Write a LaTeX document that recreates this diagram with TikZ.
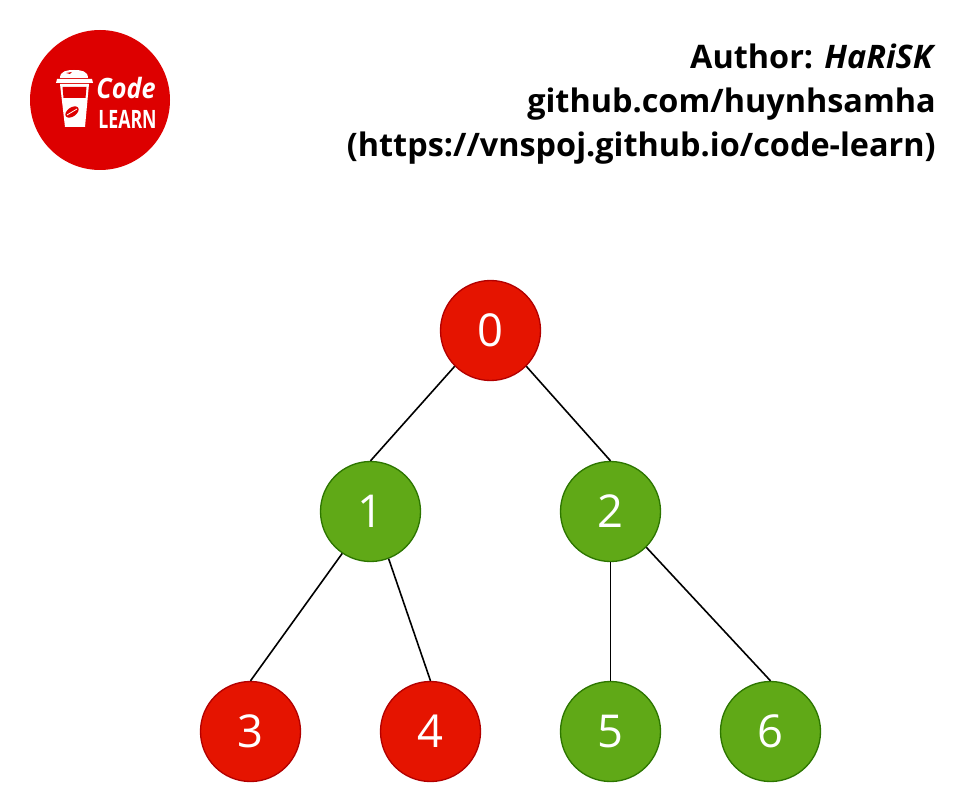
\documentclass[tikz,border=0pt]{standalone}
\usepackage{xcolor}
\usepackage{fontspec}
\setmainfont{Open Sans}
\usetikzlibrary{positioning}
\definecolor{logored}{HTML}{DD0000}
\definecolor{nodered}{HTML}{E51400}
\definecolor{nodereddraw}{HTML}{B20000}
\definecolor{nodegreen}{HTML}{60A917}
\definecolor{nodegreendraw}{HTML}{2D7600}
\tikzset{
  nut/.style={circle, line width=1pt, minimum size=75pt, inner sep=0pt, text=white,
    font=\fontsize{34}{34}\selectfont},
  nutdo/.style={nut, draw=nodereddraw, fill=nodered},
  nutxanh/.style={nut, draw=nodegreendraw, fill=nodegreen},
  canh/.style={line width=1.2pt, black},
  tieude/.style={align=right, inner sep=0pt, anchor=east,
    font=\fontsize{24.3}{33}\selectfont\bfseries}
}

\begin{document}
\begin{tikzpicture}[x=0.75pt, y=-0.75pt, on grid]
  \useasboundingbox (0,0) rectangle (962,802);
  % logo
  \fill[logored] (100,100) circle (70);
  \fill[white] (60,78) .. controls (60,71) and (67,70) .. (74,70)
    .. controls (81,70) and (88,71) .. (88,78) -- cycle;
  \fill[white] (57,79) -- (92,79) -- (93,83) -- (56,83) -- cycle;
  \fill[logored] (66,73) -- (72,72) -- (70,74) -- cycle;
  \fill[white] (60,84) -- (89,84) -- (85,127) -- (65,127) -- cycle;
  \fill[logored] (62.5,87) -- (86.5,87) -- (85.5,98) -- (63.5,98) -- cycle;
  \fill[logored, rotate around={35:(72,112)}] (72,112) ellipse (7.5 and 4.5);
  \draw[white, line width=0.6pt] (67,115) -- (77,109);
  \node[inner sep=0pt, text=white, xscale=0.9, transform shape, font=\fontsize{21}{21}\selectfont\bfseries\itshape] (logocode) at (126,88) {Code};
  \node[inner sep=0pt, text=white, xscale=0.7, transform shape, font=\fontsize{19}{19}\selectfont\bfseries] (logolearn) at (127.5,119) {LEARN};
  % header
  \node[tieude] (tacgia) at (936,104) {Author: \textit{HaRiSK}\\github.com/huynhsamha\\(https://vnspoj.github.io/code-learn)};
  % tree
  \node[nutdo] (n0) at (490.5,330.5) {0};
  \node[nutxanh, below left=135.75pt and 90pt of n0] (n1) {1};
  \node[nutxanh, below right=135.75pt and 90pt of n0] (n2) {2};
  \node[nutdo, below left=165pt and 90pt of n1] (n3) {3};
  \node[nutdo, below right=165pt and 45pt of n1] (n4) {4};
  \node[nutxanh, below=165pt of n2] (n5) {5};
  \node[nutxanh, below right=165pt and 120pt of n2] (n6) {6};
  \draw[canh] (n0.225) -- (n1.north);
  \draw[canh] (n0.315) -- (n2.north);
  \draw[canh] (n1.236) -- (n3.north);
  \draw[canh] (n1.291) -- (n4.north);
  \draw[canh] (n2.south) -- (n5.north);
  \draw[canh] (n2.315) -- (n6.north);
\end{tikzpicture}
\end{document}
